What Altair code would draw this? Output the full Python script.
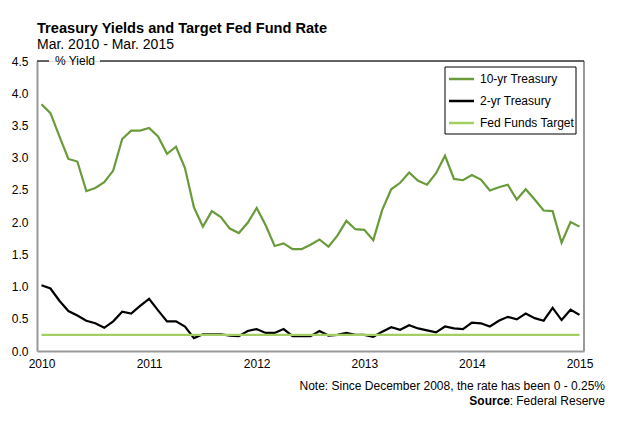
import altair as alt
import pandas as pd

# monthly readings, Mar 2010 .. Mar 2015 (61 months)
ten_yr = [3.83, 3.69, 3.33, 2.98, 2.94, 2.48, 2.53, 2.62, 2.80, 3.29,
          3.42, 3.42, 3.46, 3.33, 3.06, 3.17, 2.84, 2.23, 1.93, 2.17,
          2.08, 1.90, 1.83, 1.99, 2.22, 1.95, 1.63, 1.67, 1.58, 1.58,
          1.65, 1.73, 1.62, 1.79, 2.02, 1.89, 1.88, 1.72, 2.19, 2.51,
          2.61, 2.77, 2.64, 2.58, 2.76, 3.03, 2.67, 2.65, 2.73, 2.66,
          2.49, 2.54, 2.58, 2.35, 2.51, 2.35, 2.18, 2.17, 1.68, 2.00,
          1.93]
two_yr = [1.02, 0.97, 0.78, 0.62, 0.55, 0.47, 0.43, 0.36, 0.46, 0.61,
          0.58, 0.70, 0.81, 0.63, 0.46, 0.46, 0.38, 0.20, 0.26, 0.26,
          0.26, 0.24, 0.23, 0.31, 0.34, 0.28, 0.28, 0.34, 0.23, 0.23,
          0.23, 0.31, 0.24, 0.25, 0.28, 0.25, 0.25, 0.22, 0.30, 0.37,
          0.33, 0.40, 0.35, 0.32, 0.29, 0.38, 0.35, 0.34, 0.44, 0.43,
          0.38, 0.47, 0.53, 0.49, 0.58, 0.51, 0.47, 0.67, 0.48, 0.64,
          0.56]
fed_target = [0.25] * len(ten_yr)
series_names = ["10-yr Treasury", "2-yr Treasury", "Fed Funds Target"]
series_colors = ["#6a9b3a", "#000000", "#a3cf62"]
year_ticks = [0, 12, 24, 36, 48, 60]
y_ticks = [0.0, 0.5, 1.0, 1.5, 2.0, 2.5, 3.0, 3.5, 4.0, 4.5]

FONT = "Liberation Sans"
W, H = 547, 290

rows = []
for name, vals in zip(series_names, [ten_yr, two_yr, fed_target]):
    for i, v in enumerate(vals):
        rows.append({"Month": i, "Yield": v, "Series": name})
df = pd.DataFrame(rows)

color_scale = alt.Scale(domain=series_names, range=series_colors)

lines = alt.Chart(df).mark_line(strokeWidth=2.2).encode(
    x=alt.X("Month:Q", scale=alt.Scale(domain=[-0.5, 60.5], nice=False, zero=False),
            axis=alt.Axis(values=year_ticks, labelExpr="'' + (2010 + datum.value / 12)",
                          title=None, ticks=False, grid=False, domainColor="#999999",
                          domainWidth=2, labelFont=FONT, labelFontSize=12,
                          labelColor="#000000", labelPadding=7, labelFlush=False)),
    y=alt.Y("Yield:Q", scale=alt.Scale(domain=[0, 4.5], nice=False),
            axis=alt.Axis(values=y_ticks, format=".1f", title=None, ticks=False,
                          grid=False, domainColor="#999999", domainWidth=2,
                          labelFont=FONT, labelFontSize=12, labelColor="#000000",
                          labelPadding=9)),
    color=alt.Color("Series:N", scale=color_scale, legend=None),
    order=alt.Order("Month:Q"),
)

# boxed legend in the top-right corner of the plot
legend_df = pd.DataFrame({"Series": series_names, "row": [0, 1, 2]})
legend_box = alt.Chart(pd.DataFrame({"k": [0]})).mark_rect(
    fill="#ffffff", stroke="#000000", strokeWidth=1).encode(
    x=alt.value(408), x2=alt.value(539), y=alt.value(6), y2=alt.value(73))
legend_base = alt.Chart(legend_df).transform_calculate(py="18 + datum.row * 22")
legend_swatch = legend_base.mark_rule(strokeWidth=2.5).encode(
    x=alt.value(412), x2=alt.value(437), y=alt.Y("py:Q", scale=None),
    color=alt.Color("Series:N", scale=color_scale, legend=None))
legend_text = legend_base.mark_text(
    font=FONT, fontSize=12, align="left", baseline="middle", color="#000000").encode(
    x=alt.value(443), y=alt.Y("py:Q", scale=None), text="Series:N")

frame = pd.DataFrame({"k": [0]})
right_border = alt.Chart(frame).mark_rule(color="#999999", strokeWidth=2).encode(
    x=alt.value(W), y=alt.value(0), y2=alt.value(H))
top_left = alt.Chart(frame).mark_rule(color="#333333", strokeWidth=1.5).encode(
    x=alt.value(0), x2=alt.value(12), y=alt.value(0))
top_right = alt.Chart(frame).mark_rule(color="#333333", strokeWidth=1.5).encode(
    x=alt.value(63), x2=alt.value(W), y=alt.value(0))
yield_label = alt.Chart(frame).mark_text(
    text="% Yield", font=FONT, fontSize=12, align="center", baseline="middle",
    color="#000000").encode(x=alt.value(38), y=alt.value(0))
note = alt.Chart(frame).mark_text(
    text="Note: Since December 2008, the rate has been 0 - 0.25%", font=FONT,
    fontSize=12, align="right", baseline="middle", color="#000000"
).encode(x=alt.value(W + 21), y=alt.value(H + 35))
source_rest = alt.Chart(frame).mark_text(
    text=": Federal Reserve", font=FONT, fontSize=12, align="right",
    baseline="middle", color="#000000").encode(x=alt.value(W + 21), y=alt.value(H + 50))
source_bold = alt.Chart(frame).mark_text(
    text="Source", font=FONT, fontSize=12, fontWeight="bold", align="right",
    baseline="middle", color="#000000").encode(x=alt.value(W + 21 - 95), y=alt.value(H + 50))

chart = alt.layer(
    lines, right_border, top_left, top_right, yield_label,
    legend_box, legend_swatch, legend_text, note, source_rest, source_bold
).properties(
    width=W, height=H,
    padding={"left": 3, "top": 13, "right": 5, "bottom": 5},
    title=alt.TitleParams(
        text="Treasury Yields and Target Fed Fund Rate",
        subtitle="Mar. 2010 - Mar. 2015",
        anchor="start", frame="group", font=FONT, fontSize=14.6, fontWeight="bold",
        color="#000000", subtitleFont=FONT, subtitleFontSize=14,
        subtitleColor="#000000", subtitlePadding=2, offset=3),
).configure_view(stroke=None).configure(background="#ffffff")

chart.save("out.html", embed_options={"renderer": "svg", "actions": False})
